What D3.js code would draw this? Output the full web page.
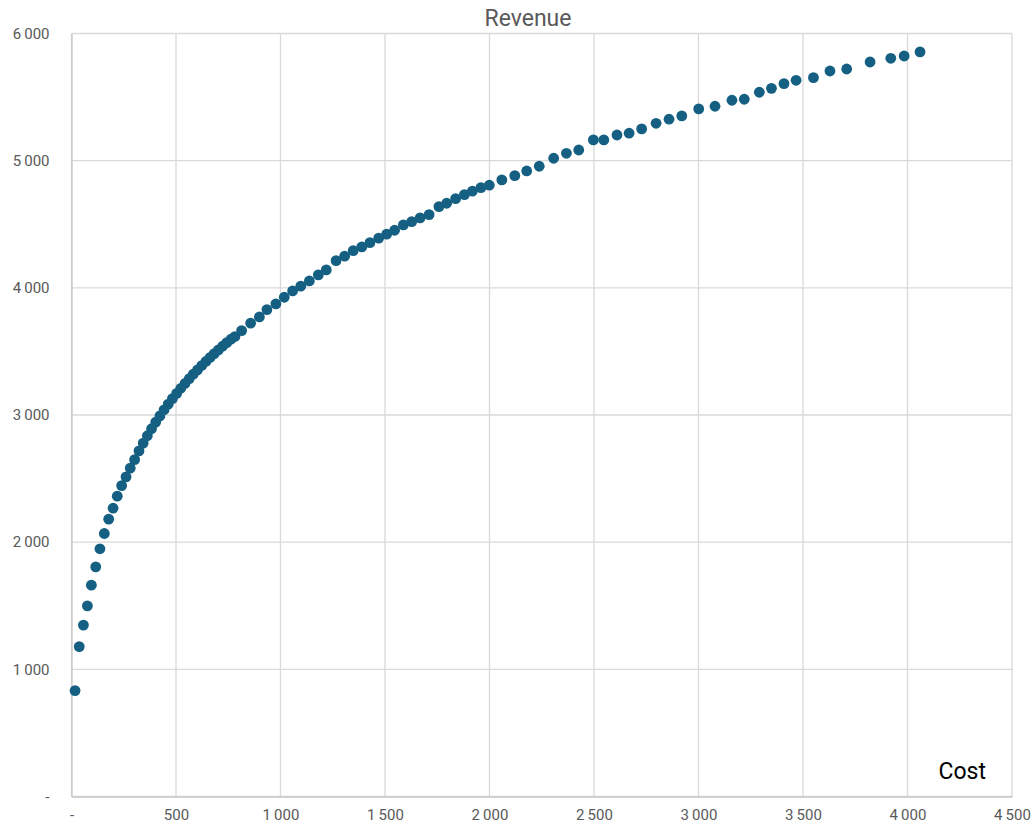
<!DOCTYPE html>
<html>
<head>
<meta charset="utf-8">
<script src="https://cdn.jsdelivr.net/npm/d3@7"></script>
<style>
  html, body { margin: 0; padding: 0; background: #fff; }
  svg { display: block; }
</style>
</head>
<body>
<svg id="chart" width="1035" height="831"></svg>
<script>
const costValues = [
  17, 37, 57, 76, 95, 116, 136, 157, 178, 199, 219, 240, 261, 281, 302, 323,
  343, 363, 383, 403, 423, 443, 463, 483, 503, 523, 543, 563, 583, 603, 623, 643, 663, 683, 703, 723, 743, 763,
  782, 814, 857, 899, 935, 978, 1018, 1058, 1097, 1138, 1181, 1219, 1266, 1307, 1348, 1389, 1428, 1470, 1508, 1546, 1588, 1628, 1668, 1711, 1758, 1795,
  1838, 1880, 1918, 1959, 1999, 2059, 2121, 2178, 2238, 2307, 2368, 2427, 2497, 2547, 2610, 2668, 2728, 2797,
  2859, 2920, 3001, 3079, 3160, 3219, 3291, 3349, 3409, 3467, 3550, 3629, 3709, 3821, 3920, 3984, 4060
];
const revenueValues = [
  833, 1179, 1348, 1499, 1662, 1806, 1948, 2068, 2181, 2267, 2362, 2445, 2513, 2582, 2649, 2718,
  2779, 2837, 2892, 2944, 2993, 3041, 3086, 3129, 3170, 3210, 3248, 3285, 3321, 3355, 3389, 3421, 3452, 3483, 3512, 3541, 3569, 3596,
  3617, 3664, 3722, 3771, 3829, 3874, 3926, 3976, 4013, 4054, 4102, 4141, 4214, 4249, 4293, 4322, 4356, 4391, 4422, 4453, 4495, 4521, 4550, 4576, 4639, 4665,
  4701, 4733, 4760, 4788, 4807, 4849, 4882, 4919, 4956, 5019, 5058, 5084, 5163, 5163, 5202, 5216, 5250, 5294,
  5326, 5352, 5407, 5428, 5475, 5483, 5538, 5569, 5606, 5632, 5653, 5705, 5721, 5776, 5805, 5823, 5855
];
const xTicks = [0, 500, 1000, 1500, 2000, 2500, 3000, 3500, 4000, 4500];
const yTicks = [0, 1000, 2000, 3000, 4000, 5000, 6000];
const chartTitle = "Revenue";
const xAxisTitle = "Cost";

const data = costValues.map((c, i) => ({ cost: c, revenue: revenueValues[i] }));

const svg = d3.select("#chart");
const plotLeft = 71.5, plotRight = 1012, plotTop = 33.5, plotBottom = 796.5;

const x = d3.scaleLinear().domain([0, 4500]).range([plotLeft, plotRight]);
const y = d3.scaleLinear().domain([0, 6000]).range([plotBottom, plotTop]);

const fmt = v => v === 0 ? "-" : d3.format(",")(v).replace(/,/g, "\u2009");
const font = "Roboto, 'Open Sans', sans-serif";

// gridlines
svg.append("g").selectAll("line").data(xTicks).join("line")
  .attr("x1", d => x(d)).attr("x2", d => x(d))
  .attr("y1", plotTop).attr("y2", plotBottom)
  .attr("stroke", "#d9d9d9").attr("stroke-width", 1.3);
svg.append("g").selectAll("line").data(yTicks).join("line")
  .attr("y1", d => y(d)).attr("y2", d => y(d))
  .attr("x1", plotLeft).attr("x2", plotRight)
  .attr("stroke", "#d9d9d9").attr("stroke-width", 1.3);

// axes
const xAxis = d3.axisBottom(x).tickValues(xTicks).tickFormat(fmt).tickSize(0).tickPadding(13);
const gx = svg.append("g").attr("transform", `translate(0,${plotBottom})`).call(xAxis);
gx.select(".domain").attr("stroke", "#c8c8c8").attr("stroke-width", 1.3);
gx.selectAll("text").attr("fill", "#595959").style("font-size", "15px").style("font-family", font);

const yAxis = d3.axisLeft(y).tickValues(yTicks).tickFormat(fmt).tickSize(0).tickPadding(22);
const gy = svg.append("g").attr("transform", `translate(${plotLeft},0)`).call(yAxis);
gy.select(".domain").attr("stroke", "#c8c8c8").attr("stroke-width", 1.3);
gy.selectAll("text").attr("fill", "#595959").style("font-size", "15px").style("font-family", font);

// points
svg.append("g").selectAll("circle").data(data).join("circle")
  .attr("cx", d => x(d.cost)).attr("cy", d => y(d.revenue))
  .attr("r", 5.4).attr("fill", "#156082");

// titles
svg.append("text").attr("x", 528).attr("y", 26).attr("text-anchor", "middle")
  .attr("fill", "#595959").style("font-size", "23px").style("font-family", font)
  .text(chartTitle);
svg.append("text").attr("x", 986).attr("y", 779).attr("text-anchor", "end")
  .attr("fill", "#000").style("font-size", "23px").style("font-family", font)
  .text(xAxisTitle);
</script>
</body>
</html>
